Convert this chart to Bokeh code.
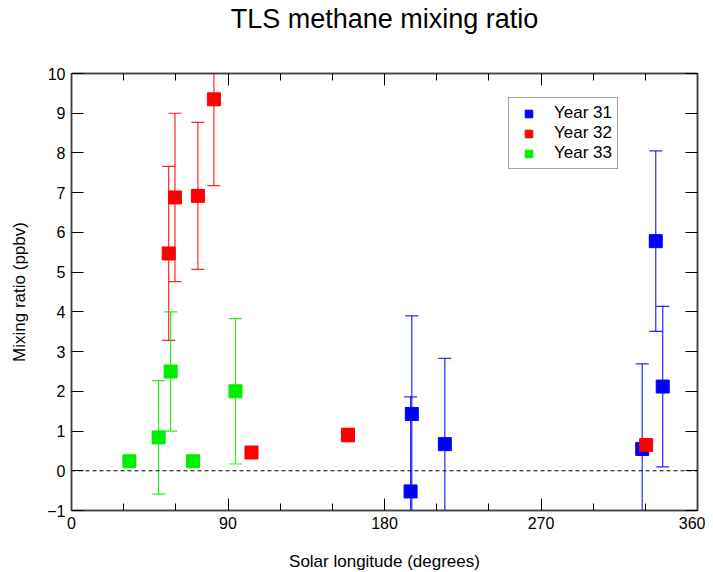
from bokeh.plotting import figure
from bokeh.models import Range1d, LinearAxis, FixedTicker, Span, Legend, LegendItem
from bokeh.embed import file_html
from bokeh.resources import INLINE

# Year 31 (blue)
x31 = [195.0, 195.7, 214.7, 328.2, 336.0, 340.0]
y31 = [-0.52, 1.43, 0.67, 0.55, 5.78, 2.12]
e31 = [2.38, 2.47, 2.16, 2.14, 2.27, 2.02]

# Year 32 (red)
x32 = [55.9, 59.5, 72.7, 81.9, 103.5, 159.0, 330.5]
y32 = [5.47, 6.88, 6.92, 9.35, 0.46, 0.90, 0.65]
e32 = [2.19, 2.12, 1.85, 2.17, 0.12, 0.17, 0.08]

# Year 33 (green)
x33 = [33.3, 50.1, 57.0, 69.9, 94.3]
y33 = [0.24, 0.84, 2.50, 0.24, 2.00]
e33 = [0.11, 1.43, 1.50, 0.11, 1.83]

x_ticks = [0, 90, 180, 270, 360]
x_minor = [30, 60, 120, 150, 210, 240, 300, 330]
y_ticks = [-1, 0, 1, 2, 3, 4, 5, 6, 7, 8, 9, 10]

TITLE = "TLS methane mixing ratio"

series = [
    ("Year 31", x31, y31, e31, "#0000ff"),
    ("Year 32", x32, y32, e32, "#ff0000"),
    ("Year 33", x33, y33, e33, "#00ee00"),
]

FONT = "Liberation Sans"
AX = "#404040"

p = figure(
    frame_width=626, frame_height=437,
    min_border_left=71, min_border_right=8, min_border_top=0, min_border_bottom=54,
    x_range=Range1d(0, 360), y_range=Range1d(-1, 10),
    output_backend="svg", toolbar_location=None,
    x_axis_location=None, y_axis_location=None,
    title=TITLE,
)
p.background_fill_color = "white"
p.border_fill_color = "white"
p.outline_line_color = AX
p.outline_line_width = 1.5
p.xgrid.visible = False
p.ygrid.visible = False

p.title.text_font = FONT
p.title.text_font_size = "27px"
p.title.text_font_style = "normal"
p.title.align = "center"
p.title.vertical_align = "top"
p.title.text_color = "black"
p.title.standoff = 7


def style_axis(ax, labels):
    ax.axis_line_color = AX
    ax.axis_line_width = 1.5
    ax.major_tick_line_color = "black"
    ax.minor_tick_line_color = "black"
    ax.major_tick_in = 12
    ax.major_tick_out = 0
    ax.minor_tick_in = 7
    ax.minor_tick_out = 0
    ax.major_label_text_font = FONT
    ax.major_label_text_font_size = "16px"
    ax.major_label_text_color = "black"
    ax.axis_label_text_font = FONT
    ax.axis_label_text_font_size = "17px"
    ax.axis_label_text_font_style = "normal"
    ax.axis_label_text_color = "black"
    if not labels:
        ax.major_label_text_color = None
        ax.major_label_text_alpha = 0
        ax.major_label_text_font_size = "0px"
        ax.major_label_standoff = 0


xt = FixedTicker(ticks=x_ticks, minor_ticks=x_minor)
yt = FixedTicker(ticks=y_ticks, minor_ticks=[])

xb = LinearAxis(ticker=xt, axis_label="Solar longitude (degrees)")
style_axis(xb, True)
xb.major_label_standoff = 6
xb.axis_label_standoff = 20
p.add_layout(xb, "below")

xa = LinearAxis(ticker=xt)
style_axis(xa, False)
p.add_layout(xa, "above")

# blank band between the top axis and the title (white on white)
spacer = LinearAxis(ticker=FixedTicker(ticks=[0], minor_ticks=[]))
style_axis(spacer, False)
spacer.axis_line_color = None
spacer.major_tick_line_color = "white"
spacer.minor_tick_line_color = None
spacer.major_tick_in = 0
spacer.minor_tick_in = 0
spacer.major_tick_out = 34
p.add_layout(spacer, "above")

yl = LinearAxis(ticker=yt, axis_label="Mixing ratio (ppbv)")
style_axis(yl, True)
yl.major_label_standoff = 6
yl.axis_label_standoff = 15
p.add_layout(yl, "left")

yr = LinearAxis(ticker=yt)
style_axis(yr, False)
p.add_layout(yr, "right")

p.add_layout(Span(location=0, dimension="width", line_color="black",
                  line_width=1, line_dash="4 3"))

items = []
for name, xs, ys, es, col in series:
    up = [y + e for y, e in zip(ys, es)]
    lo = [y - e for y, e in zip(ys, es)]
    p.segment(x0=xs, y0=lo, x1=xs, y1=up, line_color=col, line_width=1.2, line_alpha=0.85)
    p.scatter(x=xs, y=up, marker="dash", size=13, line_color=col, line_width=1.2, line_alpha=0.85)
    p.scatter(x=xs, y=lo, marker="dash", size=13, line_color=col, line_width=1.2, line_alpha=0.85)
    r = p.scatter(x=xs, y=ys, marker="square", size=13, fill_color=col, line_color=col, line_width=1)
    items.append(LegendItem(label=name, renderers=[r]))

legend = Legend(items=items, location=(437, 341))
legend.label_text_font = FONT
legend.label_text_font_size = "17px"
legend.label_text_color = "black"
legend.border_line_color = AX
legend.border_line_width = 1.5
legend.background_fill_color = "white"
legend.background_fill_alpha = 1
legend.padding = 5
legend.spacing = 0
legend.margin = 0
legend.glyph_width = 29
legend.glyph_height = 19
legend.label_height = 19
legend.label_standoff = 11
p.add_layout(legend)

open("out.html", "w").write(file_html(p, INLINE))
